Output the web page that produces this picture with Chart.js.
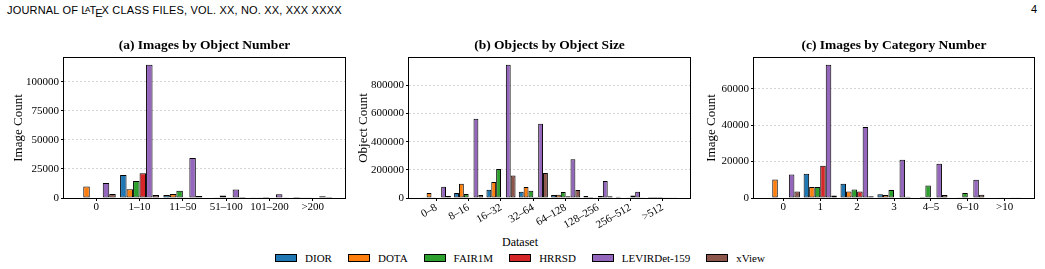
<!DOCTYPE html>
<html><head><meta charset="utf-8">
<script src="https://cdn.jsdelivr.net/npm/chart.js@4"></script>
<style>
html,body{margin:0;padding:0;background:#fff;}
body{width:1045px;height:269px;position:relative;overflow:hidden;}
#hdr{position:absolute;left:7px;top:4px;font-family:"Liberation Sans",Arial,sans-serif;font-size:11px;line-height:11px;letter-spacing:0.18px;color:#000;white-space:nowrap;}
#pg{position:absolute;right:8px;top:4px;font-family:"Liberation Sans",Arial,sans-serif;font-size:11px;line-height:11px;color:#000;}
.la{font-size:0.72em;vertical-align:0.3em;margin-left:-0.33em;margin-right:-0.12em;}
.le{vertical-align:-0.25em;margin-left:-0.12em;margin-right:-0.1em;}
canvas{position:absolute;}
#legtitle{position:absolute;left:0;width:1040px;top:235px;text-align:center;font-family:"Liberation Serif","Times New Roman",serif;font-size:12px;line-height:14px;color:#000;}
#legend{position:absolute;left:0;width:1040px;top:251px;height:14px;display:flex;justify-content:center;align-items:center;font-family:"Liberation Serif","Times New Roman",serif;font-size:11px;color:#000;}
#legend .it{display:flex;align-items:center;margin:0 8px;}
#legend .bx{width:22px;height:8px;border:1px solid #000;box-sizing:border-box;margin-right:8px;}
</style>
</head>
<body>
<div id="hdr">JOURNAL OF L<span class="la">A</span>T<span class="le">E</span>X CLASS FILES, VOL. XX, NO. XX, XXX XXXX</div>
<div id="pg">4</div>
<canvas id="ca" width="350" height="200" style="left:0;top:30px;"></canvas>
<canvas id="cb" width="345" height="200" style="left:350px;top:30px;"></canvas>
<canvas id="cc" width="350" height="200" style="left:695px;top:30px;"></canvas>
<div id="legtitle">Dataset</div>
<div id="legend"></div>
<script>
// ---- series ----
const seriesNames = ['DIOR', 'DOTA', 'FAIR1M', 'HRRSD', 'LEVIRDet-159', 'xView'];
const seriesColors = ['#1f77b4', '#ff7f0e', '#2ca02c', '#d62728', '#9467bd', '#8c564b'];

// ---- (a) Images by Object Number ----
const numCats = ['0', '1–10', '11–50', '51–100', '101–200', '>200'];
const numDIOR  = [0, 19800, 2600, 400, 150, 50];
const numDOTA  = [10000, 7500, 3400, 700, 300, 250];
const numFAIR  = [0, 14600, 6300, 2200, 900, 300];
const numHRRSD = [0, 21300, 600, 150, 0, 0];
const numLEVIR = [12900, 114700, 34500, 7300, 3300, 1500];
const numXView = [3500, 2500, 1700, 900, 700, 900];
const numYTicks = [0, 25000, 50000, 75000, 100000];

// ---- (b) Objects by Object Size ----
const sizeCats = ['0–8', '8–16', '16–32', '32–64', '64–128', '128–256', '256–512', '>512'];
const sizeDIOR  = [6000, 36000, 58000, 44000, 21000, 15000, 8000, 500];
const sizeDOTA  = [36000, 102000, 113000, 78000, 23000, 7000, 3000, 500];
const sizeFAIR  = [1000, 29000, 206000, 51000, 42000, 5000, 2000, 500];
const sizeHRRSD = [0, 1000, 2000, 7000, 12000, 15000, 18000, 1500];
const sizeLEVIR = [80000, 563000, 947000, 528000, 276000, 120000, 44000, 6000];
const sizeXView = [14000, 22000, 160000, 178000, 56000, 13000, 2000, 1500];
const sizeYTicks = [0, 200000, 400000, 600000, 800000];

// ---- (c) Images by Category Number ----
const catCats = ['0', '1', '2', '3', '4–5', '6–10', '>10'];
const catDIOR  = [0, 13300, 7800, 2000, 300, 0, 0];
const catDOTA  = [10200, 6000, 3600, 1600, 500, 100, 0];
const catFAIR  = [0, 6000, 4700, 4400, 6900, 2700, 100];
const catHRRSD = [0, 17700, 3600, 300, 0, 0, 0];
const catLEVIR = [12900, 73200, 39000, 21000, 18800, 10000, 400];
const catXView = [3600, 1400, 900, 700, 1600, 1800, 200];
const catYTicks = [0, 20000, 40000, 60000];

const SERIF = '"Liberation Serif", "Times New Roman", serif';
Chart.defaults.font.family = SERIF;
Chart.defaults.color = '#000';

const framePlugin = {
  id: 'frame',
  afterDatasetsDraw(chart) {
    const {ctx, chartArea: {left, top, right, bottom}} = chart;
    ctx.save();
    ctx.strokeStyle = '#000';
    ctx.lineWidth = 1;
    ctx.strokeRect(Math.round(left) - 0.5, Math.round(top) - 0.5, Math.round(right - left) + 1, Math.round(bottom - top) + 1);
    ctx.restore();
  }
};

function makeChart(id, cats, series, title, yTitle, yTicks, cfg) {
  const n = cats.length;
  const span = (n - 1) + 0.9;
  const xMin = -0.45 - 0.05 * span;
  const xMax = (n - 1) + 0.45 + 0.05 * span;
  let dmax = 0;
  series.forEach(s => s.forEach(v => { if (v > dmax) dmax = v; }));
  const yMax = dmax * 1.05;
  return new Chart(document.getElementById(id), {
    type: 'bar',
    data: {
      datasets: series.map((s, k) => ({
        label: seriesNames[k],
        data: s.map((v, i) => ({x: i, y: v})),
        backgroundColor: seriesColors[k],
        borderColor: '#000',
        borderWidth: 1,
        borderSkipped: false,
        categoryPercentage: 0.9,
        barPercentage: 1.0
      }))
    },
    options: {
      responsive: false,
      animation: false,
      events: [],
      layout: {padding: {left: 0, right: cfg.padRight, top: 0, bottom: 0}},
      plugins: {
        legend: {display: false},
        tooltip: {enabled: false},
        title: {
          display: true, text: title, fullSize: false,
          font: {family: SERIF, size: 13.5, weight: 'bold', lineHeight: 1.2},
          color: '#000',
          padding: {top: 7.6, bottom: 4.2}
        }
      },
      scales: {
        x: {
          type: 'linear', min: xMin, max: xMax, offset: false,
          grid: {display: true, drawOnChartArea: false, drawTicks: true, tickLength: 3, tickColor: '#000', tickWidth: 1, offset: false},
          border: {display: false},
          afterBuildTicks: (s) => { s.ticks = cats.map((c, i) => ({value: i})); },
          ticks: {
            autoSkip: false,
            minRotation: cfg.rot, maxRotation: cfg.rot,
            padding: 0,
            font: {family: SERIF, size: 11},
            color: '#000',
            callback: (v) => (cats[Math.round(v)] !== undefined) ? cats[Math.round(v)] : ''
          },
          afterFit: (s) => { s.height = 32; }
        },
        y: {
          min: 0, max: yMax,
          grid: {color: 'rgba(0,0,0,0.22)', lineWidth: 0.8, drawTicks: true, tickLength: 3, tickColor: '#000', tickWidth: 1},
          border: {display: false, dash: [2, 2]},
          afterBuildTicks: (s) => { s.ticks = yTicks.map(v => ({value: v})); },
          ticks: {
            padding: 2,
            font: {family: SERIF, size: 11}, color: '#000',
            callback: (v) => String(v)
          },
          title: {
            display: true, text: yTitle,
            font: {family: SERIF, size: 13, lineHeight: 1.2}, color: '#000',
            padding: {top: cfg.yTitlePad, bottom: 0}
          },
          afterFit: (s) => { s.width = cfg.yWidth; }
        }
      }
    },
    plugins: [framePlugin]
  });
}

makeChart('ca', numCats, [numDIOR, numDOTA, numFAIR, numHRRSD, numLEVIR, numXView],
  '(a) Images by Object Number', 'Image Count', numYTicks,
  {padRight: 5, yWidth: 64, yTitlePad: 11, rot: 0});
makeChart('cb', sizeCats, [sizeDIOR, sizeDOTA, sizeFAIR, sizeHRRSD, sizeLEVIR, sizeXView],
  '(b) Objects by Object Size', 'Object Count', sizeYTicks,
  {padRight: 5, yWidth: 59, yTitlePad: 6, rot: 30});
makeChart('cc', catCats, [catDIOR, catDOTA, catFAIR, catHRRSD, catLEVIR, catXView],
  '(c) Images by Category Number', 'Image Count', catYTicks,
  {padRight: 11, yWidth: 59, yTitlePad: 9, rot: 0});

// legend
const leg = document.getElementById('legend');
seriesNames.forEach((name, k) => {
  const it = document.createElement('div'); it.className = 'it';
  const bx = document.createElement('span'); bx.className = 'bx'; bx.style.background = seriesColors[k];
  const tx = document.createElement('span'); tx.textContent = name;
  it.appendChild(bx); it.appendChild(tx); leg.appendChild(it);
});
</script>
</body></html>
